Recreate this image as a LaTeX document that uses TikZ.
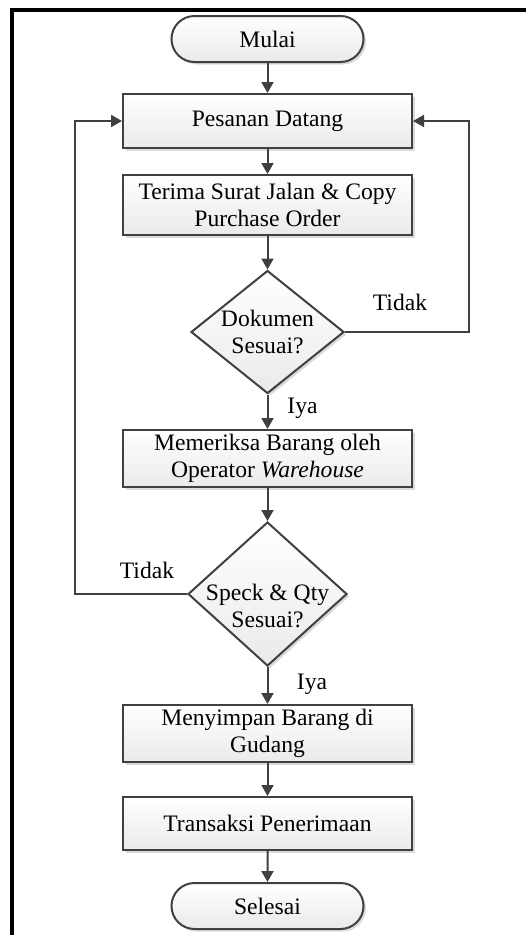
\documentclass[tikz,border=0pt]{standalone}
\usepackage{fontspec}
\setmainfont{Liberation Serif}
\usetikzlibrary{arrows.meta,shapes.geometric,shapes.misc,shadows}
\definecolor{linegray}{RGB}{64,64,64}
\definecolor{fillbot}{RGB}{234,234,234}

\begin{document}
\begin{tikzpicture}[x=1pt,y=-1pt,
  font=\fontsize{23.6}{27}\selectfont,
  shaded/.style={draw=linegray, line width=2pt, top color=white, bottom color=fillbot,
    drop shadow={shadow xshift=2.5pt, shadow yshift=-2.5pt, fill=black, opacity=0.14}},
  process/.style={shaded, rectangle, minimum width=289pt, align=center, inner sep=0pt},
  terminal/.style={shaded, rounded rectangle, minimum width=192pt, minimum height=46pt, inner sep=0pt},
  decision/.style={shaded, diamond, inner sep=0pt},
  edge/.style={draw=linegray, line width=2pt, -{Triangle[length=11pt,width=12pt]}},
  branch/.style={anchor=base, inner sep=0pt},
  decisiontext/.style={align=center, inner sep=0pt},
]
\useasboundingbox (0,0) rectangle (526,935);

% page frame (top and left edges)
\draw[line width=4pt] (12,940) -- (12,10) -- (530,10);

% flow nodes, all on one vertical axis
\def\axis{267.5}
\node[terminal] (mulai) at (\axis,39) {Mulai};
\node[process, minimum height=54pt] (pesanan) at (\axis,121) {Pesanan Datang};
\node[process, minimum height=60pt] (terima) at (\axis,205) {Terima Surat Jalan \& Copy\\Purchase Order};
\node[decision, minimum width=153pt, minimum height=123pt] (dokumen) at (\axis,332) {};
\node[decisiontext] (dokumentext) at (\axis,332) {Dokumen\\Sesuai?};
\node[process, minimum height=57pt] (periksa) at (\axis,458.5) {Memeriksa Barang oleh\\Operator \textit{Warehouse}};
\node[decision, minimum width=159pt, minimum height=144pt] (speck) at (\axis,594) {};
\node[decisiontext] (specktext) at (\axis,606) {Speck \& Qty\\Sesuai?};
\node[process, minimum height=57pt] (simpan) at (\axis,733.5) {Menyimpan Barang di\\Gudang};
\node[process, minimum height=53pt] (transaksi) at (\axis,823.5) {Transaksi Penerimaan};
\node[terminal] (selesai) at (\axis,906) {Selesai};

% loop-back columns
\coordinate (rloop) at (469,0);
\coordinate (lloop) at (75,0);

% main flow
\draw[edge] (mulai) -- (pesanan);
\draw[edge] (pesanan) -- (terima);
\draw[edge] (terima) -- (dokumen.north);
\draw[edge] (dokumen.south) -- (periksa);
\draw[edge] (periksa) -- (speck.north);
\draw[edge] (speck.south) -- (simpan);
\draw[edge] (simpan) -- (transaksi);
\draw[edge] (transaksi) -- (selesai);

% rejection loops
\draw[edge] (dokumen.east) -- (dokumen.east -| rloop) |- (pesanan.east);
\draw[edge] (speck.west) -- (speck.west -| lloop) |- (pesanan.west);

% branch labels
\node[branch] (tidak1) at (400,310) {Tidak};
\node[branch] (iya1) at (302.5,413) {Iya};
\node[branch] (tidak2) at (147,578) {Tidak};
\node[branch] (iya2) at (312,689) {Iya};
\end{tikzpicture}
\end{document}
